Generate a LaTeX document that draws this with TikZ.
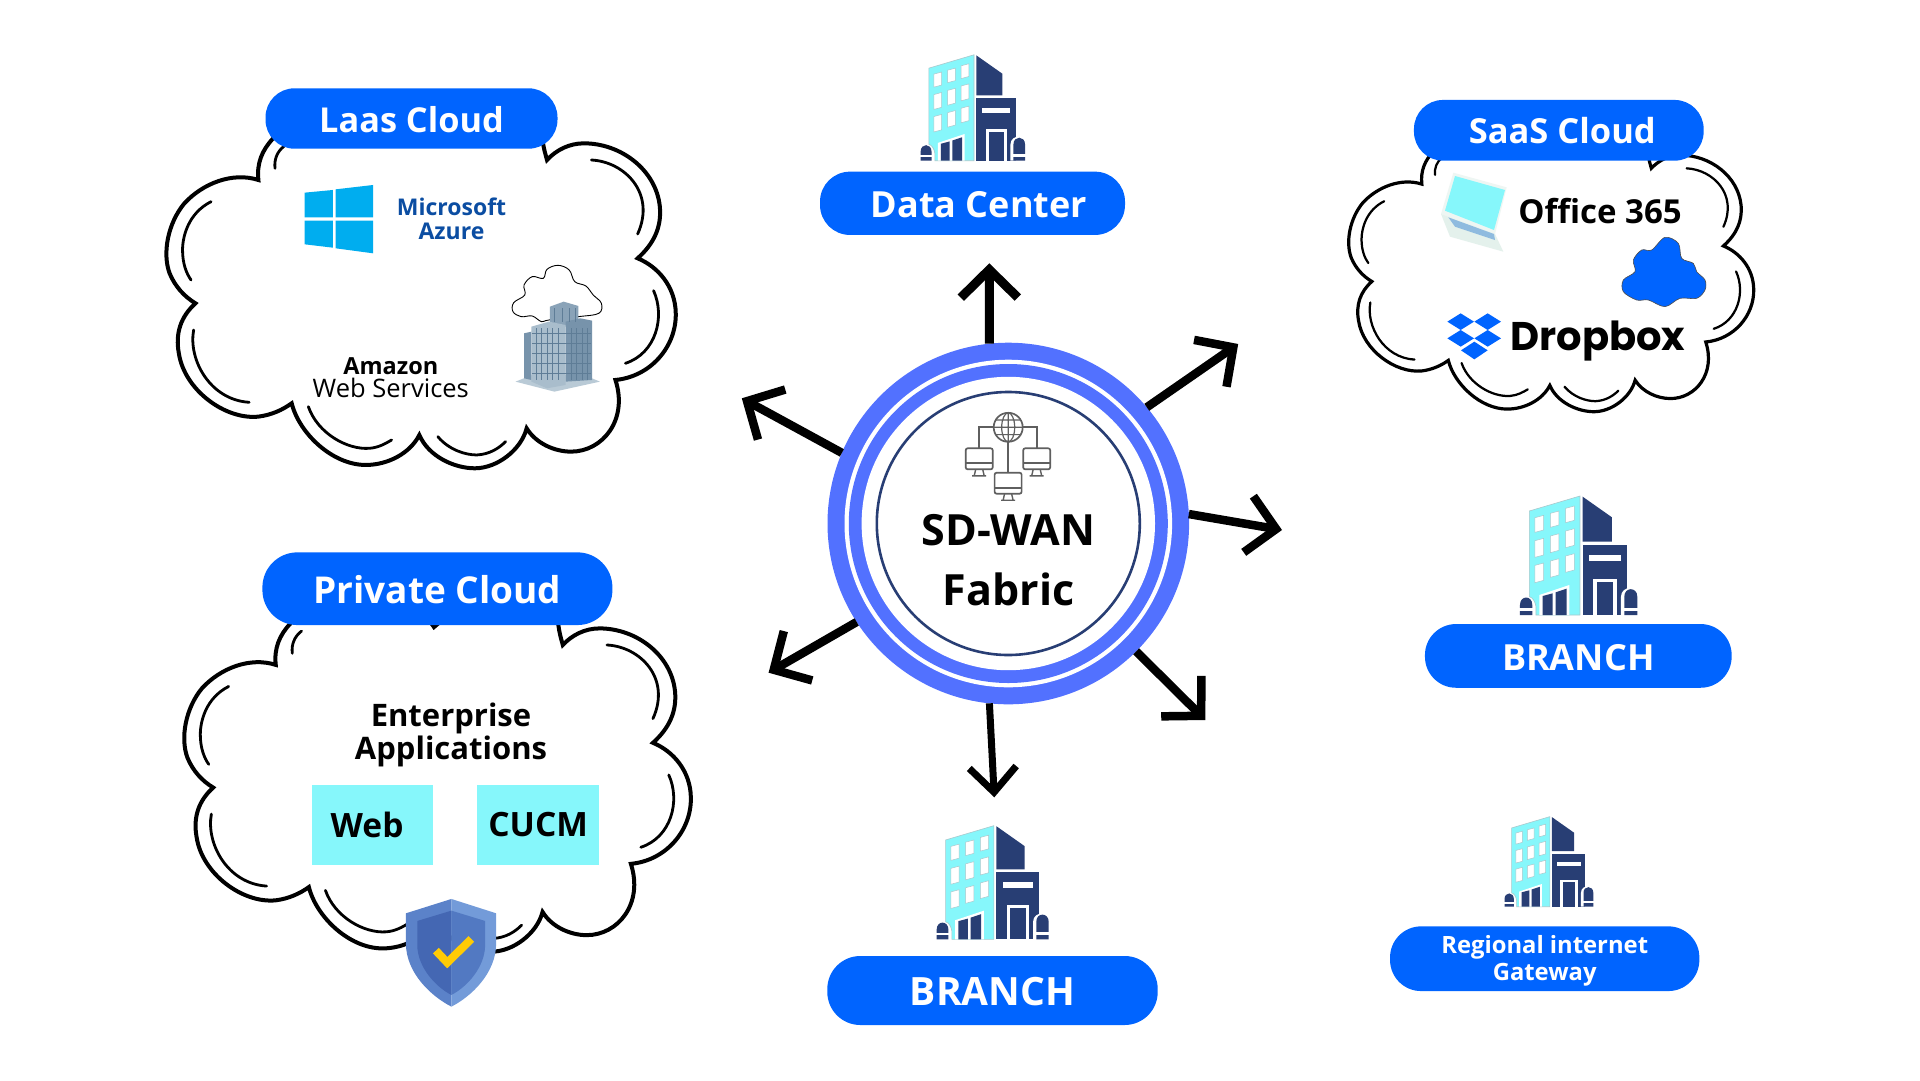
\documentclass[tikz,border=0pt]{standalone}
\usepackage{fontspec}
\setmainfont{Open Sans}
\newfontfamily\dropfont{Poppins}
\usetikzlibrary{arrows.meta}
\definecolor{pillblue}{HTML}{0064FF}
\definecolor{ringblue}{HTML}{5271FF}
\definecolor{ringnavy}{HTML}{283E74}
\definecolor{bldcyan}{HTML}{86F7FB}
\definecolor{bldnavy}{HTML}{283E74}
\definecolor{bldedge}{HTML}{A9C8CC}
\definecolor{iconline}{HTML}{5F5F5F}
\definecolor{azuretext}{HTML}{0B4DA2}
\definecolor{winblue}{HTML}{00ADEF}
\definecolor{towerlight}{HTML}{A9BDCC}
\definecolor{towermid}{HTML}{8AA3B8}
\definecolor{towerdark}{HTML}{7793AB}
\definecolor{towerbase}{HTML}{B9CAD6}
\definecolor{towergrid}{HTML}{5F7D97}
\definecolor{shieldleft}{HTML}{5B82C9}
\definecolor{shieldright}{HTML}{739BD9}
\definecolor{shieldinleft}{HTML}{4467B3}
\definecolor{shieldinright}{HTML}{5279C2}
\definecolor{checkyellow}{HTML}{FFCB05}
\definecolor{laptopbase}{HTML}{E4F1EC}
\definecolor{laptoprim}{HTML}{EEF6F3}
\definecolor{laptopkeys}{HTML}{8FBBDF}
\tikzset{
  pillbox/.style={fill=pillblue,text=white,rounded corners=#1,inner sep=0,outer sep=0,align=center},
  ringdisc/.style={circle,inner sep=0,outer sep=0},
  appbox/.style={fill=bldcyan,minimum width=121.5pt,minimum height=80pt,inner sep=0,font=\bfseries\fontsize{33.5}{40}\selectfont},
  plainlabel/.style={inner sep=0,outer sep=0,align=center},
  flowarrow/.style={line width=#1,-{Straight Barb[length=28pt,width=57pt,line width=#1]}},
  flowarrow/.default=8.5pt,
  flowarrowthin/.style={line width=7pt,-{Straight Barb[length=25pt,width=47pt,line width=7pt]}},
  cloudline/.style={line width=#1,line join=miter,line cap=round},
}
\newcommand{\cloudshape}[5]{%
  \begin{scope}[shift={(#1,#2)},xscale=#3,yscale=#4,cloudline=#5]
    \draw (360,235) .. controls (330,270) and (315,310) .. (320,360)
      .. controls (250,335) and (170,370) .. (120,430) .. controls (75,490) and (60,580) .. (80,640)
      .. controls (95,680) and (120,710) .. (150,730)
      .. controls (110,770) and (95,820) .. (105,880) .. controls (120,990) and (230,1080) .. (320,1070)
      .. controls (355,1065) and (385,1050) .. (410,1030)
      .. controls (430,1120) and (520,1215) .. (610,1215) .. controls (670,1215) and (730,1180) .. (755,1125)
      .. controls (780,1190) and (850,1225) .. (905,1225) .. controls (965,1225) and (1030,1170) .. (1045,1105)
      .. controls (1070,1150) and (1120,1175) .. (1165,1175) .. controls (1250,1175) and (1320,1080) .. (1285,960)
      .. controls (1380,950) and (1450,860) .. (1448,760) .. controls (1447,680) and (1400,620) .. (1345,595)
      .. controls (1390,550) and (1410,500) .. (1405,440) .. controls (1395,330) and (1300,250) .. (1200,250)
      .. controls (1160,250) and (1125,270) .. (1100,300) .. controls (1095,280) and (1090,260) .. (1088,240)
      .. controls (1080,150) and (900,100) .. (750,246) .. controls (650,80) and (400,150) .. (360,235);
    \begin{scope}[line width=0.7*#5]
      \draw (390,258) .. controls (370,275) and (362,300) .. (365,325);
      \draw (192,425) .. controls (130,460) and (115,530) .. (115,570) .. controls (115,610) and (125,640) .. (138,660);
      \draw (145,810) .. controls (130,900) and (190,1020) .. (295,1027);
      \draw (455,1040) .. controls (480,1120) and (560,1170) .. (620,1165) .. controls (645,1163) and (665,1150) .. (680,1140);
      \draw (805,1130) .. controls (835,1170) and (880,1185) .. (910,1185) .. controls (945,1183) and (970,1165) .. (988,1145);
      \draw (1220,300) .. controls (1310,305) and (1395,400) .. (1345,522);
      \draw (1388,692) .. controls (1420,770) and (1395,880) .. (1312,910);
    \end{scope}
  \end{scope}}
\newcommand{\buildingicon}[3]{%
  \begin{scope}[shift={(#1,#2)},scale=#3/3,shift={(-328,-405)}]
    \filldraw[fill=bldcyan,draw=bldedge,line width=.6pt] (358,93) -- (510,48) -- (510,405) -- (378,405)
      -- (378,380) .. controls (376,365) and (368,352) .. (358,350) -- cycle;
    \foreach \wx/\wy/\wh in {375/113/44,375/182/50,375/256/52,421/100/42,421/168/50,421/243/49,467/85/43,467/153/50,467/228/49}
      \filldraw[fill=white,draw=bldedge,line width=.5pt] (\wx,\wy) -- ++(26,-7) -- ++(0,\wh) -- ++(-26,7) -- cycle;
    \fill[white] (388,345) -- (478,315) -- (478,405) -- (388,405) -- cycle;
    \fill[bldnavy] (398,348) -- (428,340) -- (428,405) -- (398,405) -- cycle;
    \fill[bldnavy] (437,337) -- (470,326) -- (470,405) -- (437,405) -- cycle;
    \fill[bldnavy] (518,50) -- (606,112) -- (606,185) -- (518,185) -- cycle;
    \fill[bldnavy] (518,195) rectangle (650,405);
    \fill[white] (538,226) rectangle (632,244);
    \fill[white] (550,298) rectangle (620,405);
    \fill[bldnavy] (560,307) rectangle (610,405);
    \fill[white] (633,405) -- (633,350) .. controls (633,315) and (690,315) .. (690,350) -- (690,405) -- cycle;
    \fill[bldnavy] (643,405) -- (643,350) .. controls (643,320) and (682,320) .. (682,350) -- (682,405) -- cycle;
    \fill[white] (641,383) rectangle (684,392);
    \fill[bldnavy] (330,405) -- (330,375) .. controls (330,345) and (367,345) .. (367,375) -- (367,405) -- cycle;
    \fill[white] (328,385) rectangle (369,393);
  \end{scope}}
\newcommand{\monitoricon}[2]{%
  \draw[iconline,line width=1.7pt,rounded corners=2pt] (#1,#2) rectangle ++(27,21);
  \draw[iconline,line width=1.7pt] (#1,#2+15) -- ++(27,0);
  \draw[iconline,line width=1.4pt] (#1+10,#2+21) -- ++(-1.5,6.5) (#1+17,#2+21) -- ++(1.5,6.5) (#1+6.5,#2+27.5) -- ++(14,0);}
\begin{document}
\begin{tikzpicture}[x=1pt,y=-1pt]
  \useasboundingbox (0,0) rectangle (1920,1080);
  \fill[white] (0,0) rectangle (1920,1080);
  \cloudshape{140}{60}{0.37}{0.3333}{4pt}
  \cloudshape{158}{545.5}{0.368}{0.3316}{4pt}
  \cloudshape{1327.7}{89.4}{0.2942}{0.2631}{3.2pt}
  \node[ringdisc,fill=ringblue,minimum size=361.6pt] (fabric) at (1008.3,523.5) {};
  \node[ringdisc,fill=white,minimum size=327.6pt] (ringa) at (fabric) {};
  \node[ringdisc,fill=ringblue,minimum size=319pt] (ringb) at (fabric) {};
  \node[ringdisc,fill=white,minimum size=293.4pt] (ringc) at (fabric) {};
  \node[ringdisc,fill=white,draw=ringnavy,line width=2.6pt,minimum size=263pt] (ringd) at (fabric) {};
  \node[plainlabel,font=\bfseries\fontsize{43}{60}\selectfont] (fabriclabel) at (1008.5,560.5) {SD-WAN\\Fabric};
  \draw[iconline,line width=1.7pt] (979.3,448.3) -- (979.3,427.3) -- (1037,427.3) -- (1037,448.3);
  \draw[iconline,line width=1.7pt] (1008.2,441.7) -- (1008.2,472.7);
  \filldraw[fill=white,draw=iconline,line width=1.7pt] (1008.2,427.3) circle [radius=14.5];
  \draw[iconline,line width=1.2pt] (1008.2,427.3) circle [x radius=6.5,y radius=14.5] (1008.2,412.8) -- (1008.2,441.8)
    (993.7,427.3) -- (1022.7,427.3) (996,420) -- (1020.4,420) (996,434.6) -- (1020.4,434.6);
  \monitoricon{965.7}{448.3}
  \monitoricon{1023.2}{448.3}
  \monitoricon{994.6}{472.7}
  \coordinate (uptip) at (989.3,263.3);
  \coordinate (netip) at (1238.2,344);
  \coordinate (wtip) at (741.8,398.3);
  \coordinate (etip) at (1282,530);
  \coordinate (swtip) at (768.6,672.7);
  \coordinate (setip) at (1205.4,720);
  \coordinate (stip) at (994.3,797.3);
  \draw[flowarrow=9pt] (fabric.96) -- (uptip);
  \draw[flowarrow] (fabric.40.5) -- (netip);
  \draw[flowarrow] (fabric.157.3) -- (wtip);
  \draw[flowarrow] (fabric.3.4) -- (etip);
  \draw[flowarrow] (fabric.213.6) -- (swtip);
  \draw[flowarrow] (fabric.315) -- (setip);
  \draw[flowarrowthin] (fabric.264.3) -- (stip);
  \buildingicon{920}{160.7}{0.89}
  \buildingicon{1519.3}{615}{1}
  \buildingicon{936}{939.3}{0.955}
  \buildingicon{1504}{906.7}{0.757}
  \node[pillbox=29pt,minimum width=292pt,minimum height=60.4pt,text height=27.5pt,font=\bfseries\fontsize{34.3}{40}\selectfont] (laas) at (411.5,118.5) {Laas Cloud};
  \node[pillbox=30pt,minimum width=305pt,minimum height=63.3pt,text height=29pt,font=\bfseries\fontsize{36}{40}\selectfont] (datacenter) at (972.5,203.3) {\hspace*{13pt}Data Center};
  \node[pillbox=29pt,minimum width=289.7pt,minimum height=60.7pt,text height=27.5pt,font=\bfseries\fontsize{34.5}{40}\selectfont] (saas) at (1558.8,130.3) {\hspace*{7pt}SaaS Cloud};
  \node[pillbox=35pt,minimum width=350pt,minimum height=72.7pt,text height=29.5pt,font=\bfseries\fontsize{37}{40}\selectfont] (private) at (437.4,588.7) {Private Cloud};
  \node[pillbox=31pt,minimum width=306.7pt,minimum height=63.7pt,text height=29pt,font=\bfseries\fontsize{36}{40}\selectfont] (branchright) at (1578.3,655.9) {BRANCH};
  \node[pillbox=33pt,minimum width=330.4pt,minimum height=69pt,text height=31pt,font=\bfseries\fontsize{39}{40}\selectfont] (branchdown) at (992.5,990.5) {BRANCH};
  \node[pillbox=31pt,minimum width=309.3pt,minimum height=64.7pt,font=\bfseries\fontsize{23.8}{27}\selectfont] (gateway) at (1544.7,958.7) {\rule{0pt}{23pt}Regional internet\\Gateway};
  \begin{scope}[shift={(140,60)},xscale=0.37,yscale=0.3333]
    \fill[winblue] (445,398) -- (521,390) -- (521,472) -- (445,472) -- cycle;
    \fill[winblue] (529,388) -- (630,375) -- (630,472) -- (529,472) -- cycle;
    \fill[winblue] (445,482) -- (521,482) -- (521,563) -- (445,553) -- cycle;
    \fill[winblue] (529,482) -- (630,482) -- (630,580) -- (529,565) -- cycle;
    \draw[line width=.9pt] plot[smooth cycle,tension=.6] coordinates {(1040,705) (1038,675) (1060,650) (1090,655) (1100,628) (1130,616) (1160,630) (1175,665) (1205,678) (1225,705) (1247,730) (1240,760) (1185,770) (1105,780) (1085,785) (1060,768) (1030,770) (1008,755) (1010,728)};
    \fill[towerbase] (1015,965) -- (1060,945) -- (1200,945) -- (1243,965) -- (1120,995) -- cycle;
    \fill[towermid] (1108,740) -- (1145,725) -- (1185,738) -- (1185,800) -- (1108,800) -- cycle;
    \fill[towerdark] (1150,785) -- (1190,775) -- (1222,782) -- (1222,960) -- (1150,965) -- cycle;
    \fill[towerdark] (1038,820) -- (1058,815) -- (1058,960) -- (1038,955) -- cycle;
    \fill[towerlight] (1058,800) -- (1105,785) -- (1150,795) -- (1150,975) -- (1100,985) -- (1058,965) -- cycle;
    \foreach \bx in {1070,1085,1100,1115,1130,1165,1180,1195,1210}
      \draw[towergrid,line width=.5pt] (\bx,805) -- (\bx,960);
    \foreach \bx in {1120,1140,1160,1175}
      \draw[towergrid,line width=.5pt] (\bx,745) -- (\bx,785);
    \foreach \by in {820,850,880,910,940}
      \draw[towergrid,line width=.4pt] (1060,\by) -- (1220,\by);
  \end{scope}
  \node[plainlabel,text=azuretext,font=\bfseries\fontsize{23}{24}\selectfont] (azurelabel) at (451.5,218.5) {Microsoft\\Azure};
  \node[plainlabel,font=\fontsize{25.5}{23.4}\selectfont] (amazonlabel) at (390.8,377.5) {\textbf{\fontsize{23.5}{23.4}\selectfont Amazon}\\Web Services};
  \begin{scope}[shift={(1340,80)},scale=1/3]
    \fill[laptoprim] (340,278) -- (500,322) -- (465,462) -- (303,402) -- cycle;
    \fill[bldcyan] (345,288) -- (495,330) -- (462,450) -- (315,392) -- cycle;
    \fill[laptopbase] (303,402) -- (465,462) -- (490,515) -- (330,470) -- cycle;
    \fill[laptopkeys] (325,412) -- (462,462) -- (465,480) -- (345,440) -- cycle;
    \filldraw[fill=pillblue,draw=black!70,line width=.6pt] plot[smooth cycle,tension=.55] coordinates {(975,472) (1015,490) (1025,535) (1060,550) (1070,575) (1095,600) (1095,630) (1070,655) (1020,655) (975,680) (925,660) (890,660) (850,635) (850,600) (885,575) (880,540) (905,510) (935,510)};
    \fill[pillblue] (362,700) -- (402,725) -- (362,750) -- (322,725) -- cycle;
    \fill[pillblue] (443,700) -- (483,725) -- (443,750) -- (403,725) -- cycle;
    \fill[pillblue] (362,750) -- (402,775) -- (362,800) -- (322,775) -- cycle;
    \fill[pillblue] (443,750) -- (483,775) -- (443,800) -- (403,775) -- cycle;
    \fill[pillblue] (403,785) -- (443,811) -- (403,838) -- (363,811) -- cycle;
  \end{scope}
  \node[plainlabel,font=\bfseries\fontsize{33}{34}\selectfont] (officelabel) at (1600,211.5) {Office 365};
  \node[plainlabel,font=\dropfont\bfseries\fontsize{40}{44}\selectfont] (dropboxlabel) at (1598,341.5) {Dropbox};
  \node[plainlabel,font=\bfseries\fontsize{31}{33.6}\selectfont] (enterprise) at (451,735) {Enterprise\\Applications};
  \node[appbox] (webbox) at (372.6,825) {\hspace*{-11pt}Web};
  \node[appbox] (cucmbox) at (538.2,825) {CUCM};
  \begin{scope}[shift={(170,540)},xscale=0.3444,yscale=0.3333]
    \fill[shieldleft] (817,1077) -- (685,1120) -- (685,1210) .. controls (685,1300) and (760,1370) .. (817,1400) -- cycle;
    \fill[shieldright] (817,1077) -- (947,1120) -- (947,1210) .. controls (947,1300) and (874,1370) .. (817,1400) -- cycle;
    \fill[shieldinleft] (817,1112) -- (718,1143) -- (718,1215) .. controls (718,1280) and (770,1340) .. (817,1365) -- cycle;
    \fill[shieldinright] (817,1112) -- (915,1143) -- (915,1215) .. controls (915,1280) and (864,1340) .. (817,1365) -- cycle;
    \draw[line width=8pt,checkyellow] (772,1232) -- (805,1268) -- (875,1197);
  \end{scope}
\end{tikzpicture}
\end{document}
